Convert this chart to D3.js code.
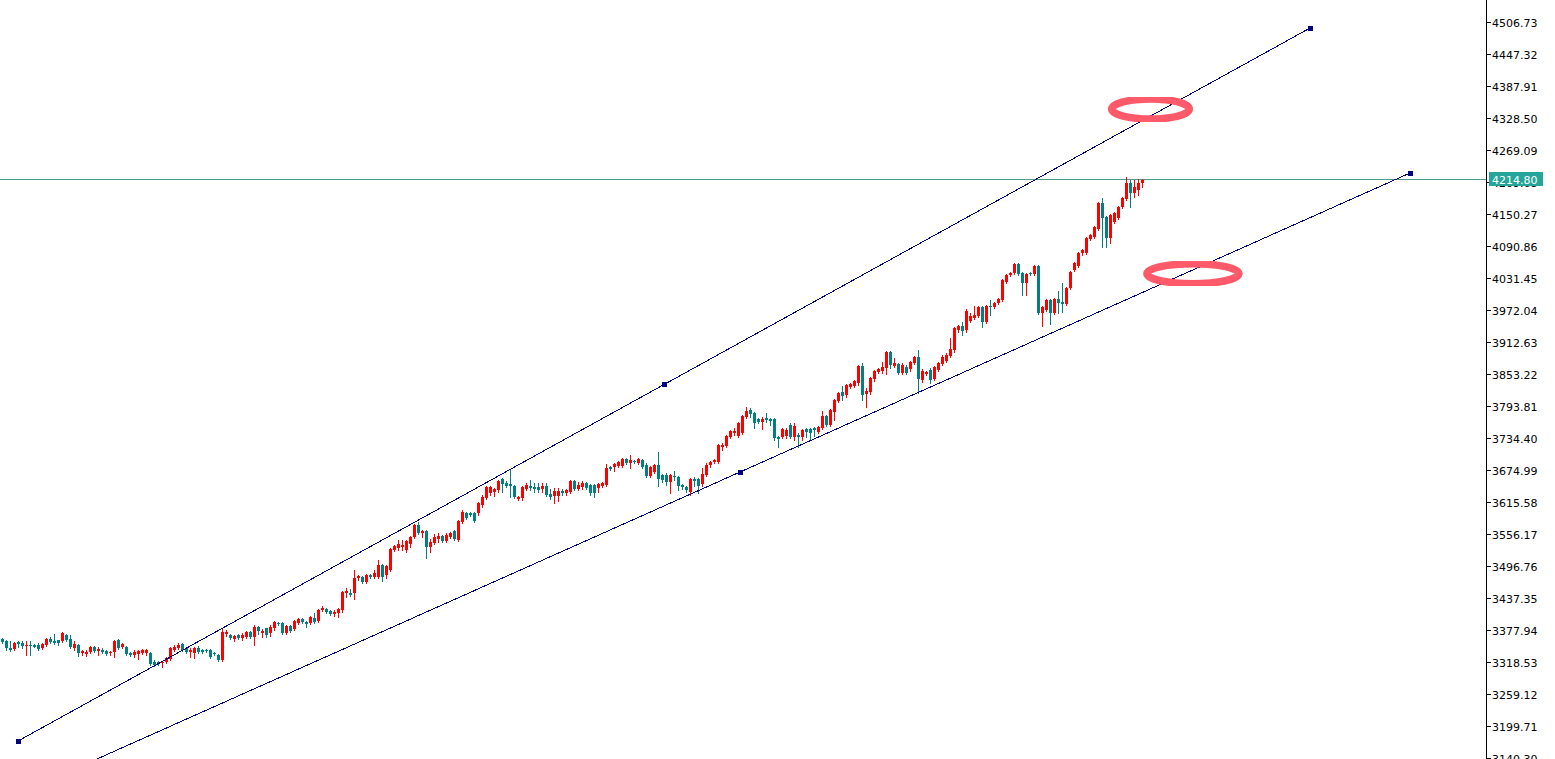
<!DOCTYPE html>
<html>
<head>
<meta charset="utf-8">
<script src="https://cdn.jsdelivr.net/npm/d3@7"></script>
<style>
  html, body { margin: 0; padding: 0; background: #fff; overflow: hidden; }
  svg { display: block; }
  text { font-family: "DejaVu Sans", sans-serif; font-size: 11px; }
</style>
</head>
<body>
<script>
// one candle per bar, oldest first
const opens = [
  3362.5, 3358.8, 3345.8, 3344.0, 3357.0, 3355.1, 3349.5, 3351.4, 3351.4, 3351.4,
  3345.8, 3351.4, 3362.5, 3358.8, 3360.7, 3358.8, 3369.9, 3362.5, 3345.8, 3351.4,
  3336.5, 3334.7, 3338.4, 3347.7, 3340.2, 3342.1, 3340.2, 3336.5, 3338.4, 3360.7,
  3347.7, 3347.7, 3336.5, 3332.8, 3334.7, 3336.5, 3336.5, 3336.5, 3319.8, 3319.8,
  3318.0, 3319.8, 3325.4, 3342.1, 3345.8, 3353.2, 3345.8, 3338.4, 3336.5, 3345.8,
  3342.1, 3342.1, 3342.1, 3336.5, 3332.8, 3323.5, 3371.8, 3369.9, 3362.5, 3369.9,
  3364.3, 3366.2, 3375.5, 3366.2, 3384.8, 3373.6, 3383.0, 3373.6, 3383.0, 3392.2,
  3392.2, 3373.6, 3386.7, 3381.1, 3392.2, 3399.7, 3394.1, 3392.2, 3401.5, 3395.9,
  3416.3, 3418.2, 3414.5, 3408.9, 3410.8, 3416.3, 3447.9, 3447.9, 3447.9, 3475.8,
  3477.6, 3468.4, 3481.3, 3477.6, 3477.6, 3499.9, 3481.3, 3490.6, 3527.8, 3531.5,
  3533.3, 3527.8, 3538.9, 3551.9, 3574.2, 3559.4, 3563.1, 3533.3, 3540.8, 3548.2,
  3553.8, 3544.5, 3551.9, 3563.1, 3546.3, 3579.8, 3596.5, 3596.5, 3596.5, 3596.5,
  3611.4, 3624.4, 3633.6, 3635.5, 3639.2, 3659.6, 3652.2, 3650.3, 3646.6, 3622.5,
  3624.4, 3641.1, 3646.6, 3644.8, 3644.8, 3641.1, 3646.6, 3631.8, 3628.1, 3628.1,
  3637.4, 3633.6, 3635.5, 3655.9, 3641.1, 3644.8, 3652.2, 3648.5, 3648.5, 3642.9,
  3646.6, 3648.5, 3681.9, 3681.9, 3683.7, 3683.7, 3696.7, 3689.3, 3693.0, 3689.3,
  3694.9, 3685.6, 3665.2, 3672.6, 3685.6, 3667.0, 3667.0, 3654.1, 3665.2, 3663.3,
  3648.5, 3644.8, 3635.5, 3659.6, 3659.6, 3650.3, 3667.0, 3685.6, 3691.2, 3691.2,
  3719.0, 3720.9, 3737.6, 3745.0, 3739.5, 3745.0, 3774.7, 3787.7, 3782.1, 3771.0,
  3765.4, 3772.9, 3771.0, 3771.0, 3737.6, 3737.6, 3739.5, 3759.9, 3737.6, 3741.3,
  3737.6, 3752.4, 3752.4, 3754.3, 3746.9, 3754.3, 3776.6, 3759.9, 3784.0, 3804.4,
  3821.1, 3815.5, 3830.4, 3832.2, 3837.8, 3869.4, 3817.4, 3821.1, 3845.2, 3858.2,
  3860.1, 3865.6, 3895.4, 3869.4, 3873.1, 3856.4, 3867.5, 3863.8, 3874.9, 3886.1,
  3843.4, 3854.5, 3861.9, 3845.2, 3861.9, 3873.1, 3878.6, 3887.9, 3899.1, 3936.2,
  3943.7, 3936.2, 3952.9, 3958.5, 3962.2, 3978.9, 3951.1, 3980.8, 3978.9, 3986.4,
  3991.9, 4025.3, 4038.3, 4042.0, 4058.8, 4042.0, 4023.5, 4042.0, 4040.2, 4055.1,
  3967.8, 3973.4, 3991.9, 3967.8, 3993.8, 3988.2, 3984.5, 4014.2, 4047.6, 4055.1,
  4079.2, 4079.2, 4105.2, 4108.9, 4123.7, 4172.0, 4146.0, 4107.0, 4136.7, 4144.1,
  4164.6, 4179.4, 4209.1, 4190.6, 4196.2, 4209.1
];
const highs = [
  3364.3, 3360.7, 3358.8, 3357.0, 3358.8, 3358.8, 3358.8, 3358.8, 3352.5, 3355.1,
  3355.1, 3364.3, 3366.2, 3371.8, 3360.7, 3375.5, 3371.8, 3369.9, 3358.8, 3353.2,
  3342.1, 3342.1, 3349.5, 3349.5, 3347.7, 3345.8, 3342.1, 3340.2, 3360.7, 3362.5,
  3355.1, 3349.5, 3338.4, 3342.1, 3342.1, 3344.0, 3344.0, 3338.4, 3323.5, 3321.7,
  3321.7, 3329.1, 3347.7, 3351.4, 3355.1, 3355.1, 3347.7, 3345.8, 3347.7, 3349.5,
  3344.0, 3344.0, 3344.0, 3338.4, 3334.7, 3383.0, 3379.2, 3371.8, 3369.9, 3371.8,
  3373.6, 3377.3, 3377.3, 3388.5, 3386.7, 3381.1, 3383.0, 3388.5, 3395.9, 3394.1,
  3394.1, 3388.5, 3388.5, 3397.8, 3401.5, 3401.5, 3395.9, 3405.2, 3410.8, 3418.2,
  3423.8, 3420.1, 3416.3, 3416.3, 3420.1, 3451.7, 3457.2, 3455.4, 3490.6, 3481.3,
  3479.5, 3483.2, 3483.2, 3490.6, 3509.2, 3501.8, 3499.9, 3531.5, 3537.1, 3546.3,
  3546.3, 3546.3, 3553.8, 3576.1, 3579.8, 3564.9, 3564.9, 3548.2, 3557.5, 3559.4,
  3555.7, 3559.4, 3561.2, 3564.9, 3583.5, 3602.0, 3598.3, 3598.3, 3598.3, 3616.9,
  3629.9, 3646.6, 3646.6, 3642.9, 3657.8, 3661.5, 3655.9, 3676.3, 3648.5, 3628.1,
  3646.6, 3652.2, 3657.8, 3652.2, 3652.2, 3652.2, 3652.2, 3641.1, 3642.9, 3642.9,
  3641.1, 3641.1, 3657.8, 3657.8, 3654.1, 3655.9, 3654.1, 3650.3, 3650.3, 3652.2,
  3654.1, 3687.4, 3683.7, 3689.3, 3693.0, 3698.6, 3698.6, 3704.1, 3694.9, 3698.6,
  3696.7, 3689.3, 3683.7, 3687.4, 3709.7, 3668.9, 3670.8, 3668.9, 3674.5, 3665.2,
  3650.3, 3646.6, 3661.5, 3663.3, 3661.5, 3680.0, 3689.3, 3693.0, 3696.7, 3724.6,
  3726.4, 3741.3, 3750.6, 3754.3, 3765.4, 3778.4, 3793.3, 3791.4, 3784.0, 3772.9,
  3774.7, 3782.1, 3772.9, 3772.9, 3739.5, 3754.3, 3754.3, 3763.6, 3763.6, 3745.0,
  3752.4, 3754.3, 3754.3, 3756.2, 3758.0, 3785.9, 3778.4, 3789.6, 3808.1, 3821.1,
  3832.2, 3836.0, 3837.8, 3843.4, 3871.2, 3874.9, 3828.5, 3848.9, 3861.9, 3865.6,
  3876.8, 3897.2, 3897.2, 3884.2, 3874.9, 3874.9, 3871.2, 3878.6, 3887.9, 3899.1,
  3863.8, 3860.1, 3865.6, 3869.4, 3876.8, 3889.8, 3893.5, 3921.4, 3941.8, 3945.5,
  3951.1, 3975.2, 3967.8, 3980.8, 3980.8, 3980.8, 3982.6, 3991.9, 3988.2, 3995.6,
  4030.9, 4040.2, 4043.9, 4060.6, 4060.6, 4043.9, 4042.0, 4043.9, 4056.9, 4056.9,
  3980.8, 3993.8, 3993.8, 3995.6, 4008.6, 4023.5, 4016.0, 4045.8, 4062.5, 4081.0,
  4086.6, 4108.9, 4114.5, 4129.3, 4173.9, 4181.3, 4147.8, 4151.6, 4155.3, 4166.4,
  4183.2, 4220.3, 4214.7, 4214.7, 4216.6, 4216.6
];
const lows = [
  3355.1, 3342.1, 3340.2, 3342.1, 3347.7, 3345.8, 3332.8, 3332.8, 3347.7, 3342.1,
  3344.0, 3349.5, 3355.1, 3353.2, 3351.4, 3357.0, 3358.8, 3345.8, 3342.1, 3331.0,
  3332.8, 3331.0, 3336.5, 3338.4, 3332.8, 3336.5, 3332.8, 3332.8, 3329.1, 3344.0,
  3345.8, 3332.8, 3331.0, 3329.1, 3325.4, 3334.7, 3332.8, 3314.3, 3312.4, 3314.3,
  3310.5, 3318.0, 3323.5, 3340.2, 3344.0, 3340.2, 3336.5, 3329.1, 3327.3, 3336.5,
  3336.5, 3338.4, 3327.3, 3332.8, 3321.7, 3321.7, 3368.1, 3362.5, 3358.8, 3362.5,
  3360.7, 3364.3, 3364.3, 3351.4, 3371.8, 3366.2, 3366.2, 3368.1, 3379.2, 3388.5,
  3371.8, 3371.8, 3375.5, 3379.2, 3390.4, 3392.2, 3384.8, 3390.4, 3392.2, 3394.1,
  3414.5, 3410.8, 3407.1, 3405.2, 3403.4, 3412.6, 3440.5, 3442.4, 3436.8, 3472.1,
  3466.5, 3466.5, 3475.8, 3475.8, 3475.8, 3470.2, 3475.8, 3488.8, 3525.9, 3527.8,
  3527.8, 3524.1, 3533.3, 3550.1, 3557.5, 3551.9, 3512.9, 3524.1, 3538.9, 3542.6,
  3542.6, 3542.6, 3550.1, 3546.3, 3544.5, 3577.9, 3585.3, 3590.9, 3579.8, 3592.8,
  3607.7, 3622.5, 3629.9, 3628.1, 3635.5, 3635.5, 3644.8, 3626.2, 3624.4, 3620.6,
  3620.6, 3639.2, 3639.2, 3635.5, 3635.5, 3635.5, 3628.1, 3622.5, 3615.1, 3618.8,
  3629.9, 3629.9, 3633.6, 3639.2, 3639.2, 3641.1, 3641.1, 3629.9, 3626.2, 3635.5,
  3644.8, 3646.6, 3676.3, 3674.5, 3681.9, 3681.9, 3687.4, 3680.0, 3689.3, 3687.4,
  3680.0, 3663.3, 3663.3, 3670.8, 3646.6, 3654.1, 3648.5, 3633.6, 3657.8, 3639.2,
  3641.1, 3635.5, 3629.9, 3646.6, 3633.6, 3646.6, 3665.2, 3681.9, 3689.3, 3689.3,
  3713.4, 3719.0, 3735.7, 3741.3, 3737.6, 3743.1, 3772.9, 3774.7, 3754.3, 3763.6,
  3752.4, 3765.4, 3759.9, 3732.0, 3719.0, 3735.7, 3735.7, 3735.7, 3732.0, 3719.0,
  3732.0, 3737.6, 3732.0, 3739.5, 3745.0, 3752.4, 3758.0, 3758.0, 3769.2, 3802.6,
  3806.3, 3811.8, 3828.5, 3830.4, 3834.1, 3806.3, 3793.3, 3817.4, 3841.5, 3856.4,
  3856.4, 3854.5, 3865.6, 3867.5, 3854.5, 3854.5, 3854.5, 3860.1, 3873.1, 3819.3,
  3839.7, 3852.6, 3837.8, 3843.4, 3860.1, 3871.2, 3876.8, 3886.1, 3895.4, 3932.5,
  3926.9, 3932.5, 3951.1, 3956.7, 3960.4, 3941.8, 3949.2, 3964.1, 3977.1, 3984.5,
  3990.1, 4023.5, 4036.5, 4040.2, 4038.3, 4001.2, 4001.2, 4038.3, 4038.3, 3965.9,
  3943.7, 3971.5, 3947.4, 3965.9, 3967.8, 3969.6, 3982.6, 4012.3, 4045.8, 4053.2,
  4075.5, 4077.3, 4103.3, 4107.0, 4121.9, 4090.3, 4090.3, 4097.7, 4134.9, 4142.3,
  4162.7, 4177.6, 4164.6, 4183.2, 4186.9, 4201.7
];
const closes = [
  3357.0, 3345.8, 3342.1, 3355.1, 3353.2, 3349.5, 3351.4, 3349.5, 3347.7, 3344.0,
  3353.2, 3362.5, 3357.0, 3355.1, 3355.1, 3373.6, 3360.7, 3347.7, 3353.2, 3336.5,
  3340.2, 3338.4, 3347.7, 3340.2, 3344.0, 3338.4, 3334.7, 3338.4, 3358.8, 3345.8,
  3353.2, 3334.7, 3332.8, 3338.4, 3340.2, 3342.1, 3342.1, 3316.1, 3314.3, 3316.1,
  3319.8, 3327.3, 3345.8, 3347.7, 3351.4, 3342.1, 3338.4, 3342.1, 3345.8, 3338.4,
  3338.4, 3340.2, 3329.1, 3334.7, 3323.5, 3375.5, 3375.5, 3364.3, 3368.1, 3364.3,
  3369.9, 3375.5, 3366.2, 3384.8, 3377.3, 3377.3, 3369.9, 3384.8, 3394.1, 3390.4,
  3373.6, 3386.7, 3377.3, 3395.9, 3399.7, 3394.1, 3390.4, 3403.4, 3394.1, 3416.3,
  3420.1, 3412.6, 3408.9, 3412.6, 3418.2, 3449.8, 3451.7, 3444.2, 3475.8, 3479.5,
  3468.4, 3481.3, 3477.6, 3485.1, 3499.9, 3477.6, 3498.1, 3529.6, 3535.2, 3538.9,
  3537.1, 3544.5, 3551.9, 3574.2, 3559.4, 3563.1, 3533.3, 3542.6, 3551.9, 3553.8,
  3544.5, 3555.7, 3559.4, 3548.2, 3581.6, 3598.3, 3587.2, 3592.8, 3581.6, 3615.1,
  3626.2, 3644.8, 3644.8, 3641.1, 3655.9, 3650.3, 3646.6, 3646.6, 3626.2, 3626.2,
  3644.8, 3648.5, 3642.9, 3641.1, 3639.2, 3646.6, 3629.9, 3626.2, 3637.4, 3637.4,
  3633.6, 3639.2, 3655.9, 3641.1, 3648.5, 3652.2, 3642.9, 3633.6, 3633.6, 3650.3,
  3652.2, 3680.0, 3678.2, 3687.4, 3691.2, 3696.7, 3689.3, 3694.9, 3691.2, 3696.7,
  3681.9, 3665.2, 3681.9, 3685.6, 3659.6, 3657.8, 3654.1, 3667.0, 3663.3, 3646.6,
  3644.8, 3639.2, 3659.6, 3655.9, 3646.6, 3668.9, 3685.6, 3691.2, 3694.9, 3722.7,
  3722.7, 3739.5, 3748.7, 3748.7, 3763.6, 3776.6, 3785.9, 3780.3, 3763.6, 3765.4,
  3771.0, 3769.2, 3767.3, 3735.7, 3733.9, 3752.4, 3750.6, 3737.6, 3758.0, 3737.6,
  3750.6, 3746.9, 3745.0, 3750.6, 3756.2, 3776.6, 3759.9, 3787.7, 3806.3, 3819.3,
  3813.7, 3834.1, 3836.0, 3841.5, 3869.4, 3815.5, 3823.0, 3847.1, 3860.1, 3863.8,
  3867.5, 3895.4, 3871.2, 3874.9, 3856.4, 3871.2, 3856.4, 3876.8, 3886.1, 3845.2,
  3860.1, 3858.2, 3843.4, 3867.5, 3874.9, 3886.1, 3889.8, 3900.9, 3939.9, 3943.7,
  3934.4, 3971.5, 3962.2, 3964.1, 3978.9, 3951.1, 3980.8, 3978.0, 3986.4, 3993.8,
  4029.1, 4038.3, 4042.0, 4058.8, 4040.2, 4023.5, 4040.2, 4040.2, 4055.1, 3967.8,
  3978.9, 3991.9, 3967.8, 3993.8, 3986.4, 3984.5, 4014.2, 4043.9, 4060.6, 4079.2,
  4084.8, 4107.0, 4112.6, 4127.5, 4172.0, 4144.1, 4107.0, 4149.7, 4153.4, 4164.6,
  4181.3, 4209.1, 4190.6, 4201.7, 4209.1, 4214.80
];

const priceTicks = [
  4506.73, 4447.32, 4387.91, 4328.50, 4269.09, 4209.68, 4150.27, 4090.86,
  4031.45, 3972.04, 3912.63, 3853.22, 3793.81, 3734.40, 3674.99, 3615.58,
  3556.17, 3496.76, 3437.35, 3377.94, 3318.53, 3259.12, 3199.71, 3140.30
];
const lastPrice = 4214.80;

// channel lines, anchor points as [bar, price]
const upperChannel = [[3.9, 3173.2], [326.9, 4496.9]];
const lowerChannel = [[16.9, 3117.5], [351.9, 4227.7]];

// highlight rings, centres as [bar, price]
const rings = [[287.0, 4346.5], [297.6, 4040.7]];

const width = 1555, height = 759;
const axisX = 1486;

const svg = d3.select('body').append('svg')
  .attr('width', width)
  .attr('height', height);

let x = d3.scaleLinear().domain([0, 285]).range([2.5, 1142.5]);
let y = d3.scaleLinear().domain([3140.30, 4506.73]).range([758.7, 22.7]);

let bars = closes.map((c, i) => ({i: i, o: opens[i], h: highs[i], l: lows[i], c: c}));

let plot = svg.append('g').attr('shape-rendering', 'crispEdges');

// last price line
let lastY = Math.floor(y(lastPrice)) + 0.5;
plot.append('line')
  .attr('x1', 0).attr('x2', axisX)
  .attr('y1', lastY).attr('y2', lastY)
  .attr('stroke', '#4a9a90');

// wicks
plot.append('g').selectAll('rect')
  .data(bars)
  .enter().append('rect')
  .attr('x', d => Math.floor(x(d.i)))
  .attr('width', 1)
  .attr('y', d => Math.round(y(d.h)))
  .attr('height', d => Math.round(y(d.l)) - Math.round(y(d.h)) + 1)
  .attr('fill', d => d.c >= d.o ? '#ff0000' : '#008080');

// bodies
plot.append('g').selectAll('rect')
  .data(bars)
  .enter().append('rect')
  .attr('x', d => Math.floor(x(d.i)) - 1)
  .attr('width', 3)
  .attr('y', d => Math.round(y(Math.max(d.o, d.c))))
  .attr('height', d => Math.max(1, Math.round(y(Math.min(d.o, d.c))) - Math.round(y(Math.max(d.o, d.c)))))
  .attr('fill', d => d.c >= d.o ? '#ff0000' : '#008080');

// channel lines with their handles
[upperChannel, lowerChannel].forEach(pts => {
  let a = pts[0], b = pts[1];
  let mid = [(a[0] + b[0]) / 2, (a[1] + b[1]) / 2];
  plot.append('line')
    .attr('x1', x(a[0])).attr('y1', y(a[1]))
    .attr('x2', x(b[0])).attr('y2', y(b[1]))
    .attr('stroke', '#000080')
    .attr('stroke-width', 1);
  plot.append('g').selectAll('rect')
    .data([a, mid, b])
    .enter().append('rect')
    .attr('x', d => Math.round(x(d[0])) - 2)
    .attr('y', d => Math.round(y(d[1])) - 2)
    .attr('width', 5).attr('height', 5)
    .attr('fill', '#000080');
});

// pink rings
let defs = svg.append('defs');
defs.append('filter').attr('id', 'soft')
  .append('feGaussianBlur').attr('stdDeviation', 0.6);

svg.append('g').selectAll('ellipse')
  .data(rings)
  .enter().append('ellipse')
  .attr('cx', d => x(d[0]))
  .attr('cy', d => y(d[1]))
  .attr('rx', (d, i) => i == 0 ? 38.8 : 46)
  .attr('ry', 10)
  .attr('fill', 'none')
  .attr('stroke', '#ff5a6b')
  .attr('stroke-width', 7.5)
  .attr('filter', 'url(#soft)');

// price axis on the right
let axis = svg.append('g').attr('shape-rendering', 'crispEdges');
axis.append('rect')
  .attr('x', axisX).attr('y', 0)
  .attr('width', 1).attr('height', height)
  .attr('fill', '#000');

let ticks = axis.selectAll('g.tick')
  .data(priceTicks)
  .enter().append('g')
  .attr('class', 'tick')
  .attr('transform', d => 'translate(0,' + Math.floor(y(d)) + ')');

ticks.append('rect')
  .attr('x', axisX + 1).attr('y', 0)
  .attr('width', 4).attr('height', 1)
  .attr('fill', '#000');

ticks.append('text')
  .attr('x', axisX + 6)
  .attr('y', 4.5)
  .attr('fill', '#000')
  .text(d => d.toFixed(2));

// current price tag
let tagY = Math.floor(y(lastPrice));
axis.append('rect')
  .attr('x', axisX + 3).attr('y', tagY - 7)
  .attr('width', 54).attr('height', 14)
  .attr('fill', '#26a69a');
axis.append('text')
  .attr('x', axisX + 6)
  .attr('y', tagY + 4.5)
  .attr('fill', '#fff')
  .text(lastPrice.toFixed(2));
</script>
</body>
</html>
